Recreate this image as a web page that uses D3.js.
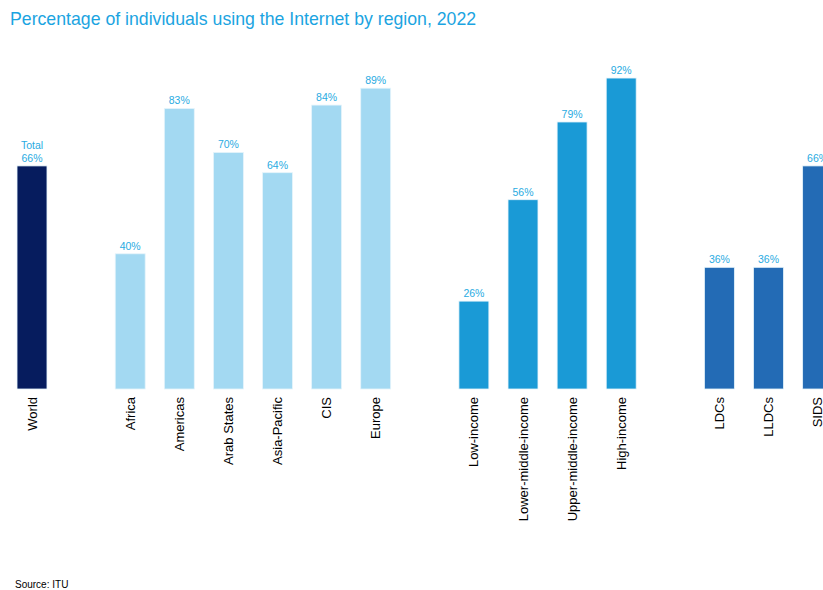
<!DOCTYPE html>
<html>
<head>
<meta charset="utf-8">
<script src="https://cdn.jsdelivr.net/npm/d3@7"></script>
<style>
	body { margin: 0; background: #ffffff; }
	svg { display: block; font-family: "Liberation Sans", Arial, sans-serif; }
</style>
</head>
<body>
<svg id="canvas" width="823" height="590"></svg>
<script>
// slots: empty strings are spacer columns between groups
var categories = ["World", "", "Africa", "Americas", "Arab States", "Asia-Pacific", "CIS", "Europe", " ",
	"Low-income", "Lower-middle-income", "Upper-middle-income", "High-income", "  ",
	"LDCs", "LLDCs", "SIDS"];
var values = [66, null, 40, 83, 70, 64, 84, 89, null, 26, 56, 79, 92, null, 36, 36, 66];
var groups = ["world", null, "region", "region", "region", "region", "region", "region", null,
	"income", "income", "income", "income", null, "special", "special", "special"];
var groupColors = {world: "#061c5e", region: "#a3d9f2", income: "#1a9ad6", special: "#236bb5"};

function draw(){
	var svg = d3.select("#canvas");
	var step = 49.1;
	var x = d3.scaleBand()
		.domain(categories)
		.range([32 - step / 2, 32 - step / 2 + step * categories.length])
		.paddingInner(0.39)
		.paddingOuter(0.195);
	var y = d3.scaleLinear().domain([0, 100]).range([389, 51]);

	svg.append("text")
		.attr("x", 10)
		.attr("y", 25)
		.attr("fill", "#1ba4e1")
		.attr("font-size", "17.7px")
		.text("Percentage of individuals using the Internet by region, 2022");

	var rows = categories.map(function(c, i){
		return {name: c, value: values[i], group: groups[i]};
	}).filter(function(d){ return d.value !== null; });

	svg.selectAll("rect.bar")
		.data(rows)
		.enter()
		.append("rect")
			.attr("class", "bar")
			.attr("x", function(d){ return x(d.name); })
			.attr("width", x.bandwidth())
			.attr("y", function(d){ return y(d.value); })
			.attr("height", function(d){ return y(0) - y(d.value); })
			.attr("fill", function(d){ return groupColors[d.group]; })
			.attr("stroke", "#e6f4fb")
			.attr("stroke-width", 0.8);

	svg.selectAll("text.val")
		.data(rows)
		.enter()
		.append("text")
			.attr("class", "val")
			.attr("x", function(d){ return x(d.name) + x.bandwidth() / 2; })
			.attr("y", function(d){ return y(d.value) - 4; })
			.attr("text-anchor", "middle")
			.attr("fill", "#29abe2")
			.attr("font-size", "10.5px")
			.text(function(d){ return d.value + "%"; });

	// "Total" above the world bar
	svg.append("text")
		.attr("x", x("World") + x.bandwidth() / 2)
		.attr("y", y(values[0]) - 17)
		.attr("text-anchor", "middle")
		.attr("fill", "#29abe2")
		.attr("font-size", "10.5px")
		.text("Total");

	var axis = d3.axisBottom(x).tickSize(0).tickPadding(0);
	var g = svg.append("g")
		.attr("transform", "translate(0," + y(0) + ")")
		.call(axis);
	g.select(".domain").remove();
	g.selectAll("text")
		.attr("font-family", "\"Liberation Sans\", Arial, sans-serif")
		.attr("font-size", "13px")
		.attr("fill", "#000000")
		.attr("text-anchor", "end")
		.attr("dy", null)
		.attr("y", 0)
		.attr("transform", "translate(4.5,8) rotate(-90)");

	svg.append("text")
		.attr("x", 15)
		.attr("y", 588)
		.attr("font-size", "10px")
		.attr("fill", "#000000")
		.text("Source: ITU");
}

draw();
</script>
</body>
</html>
